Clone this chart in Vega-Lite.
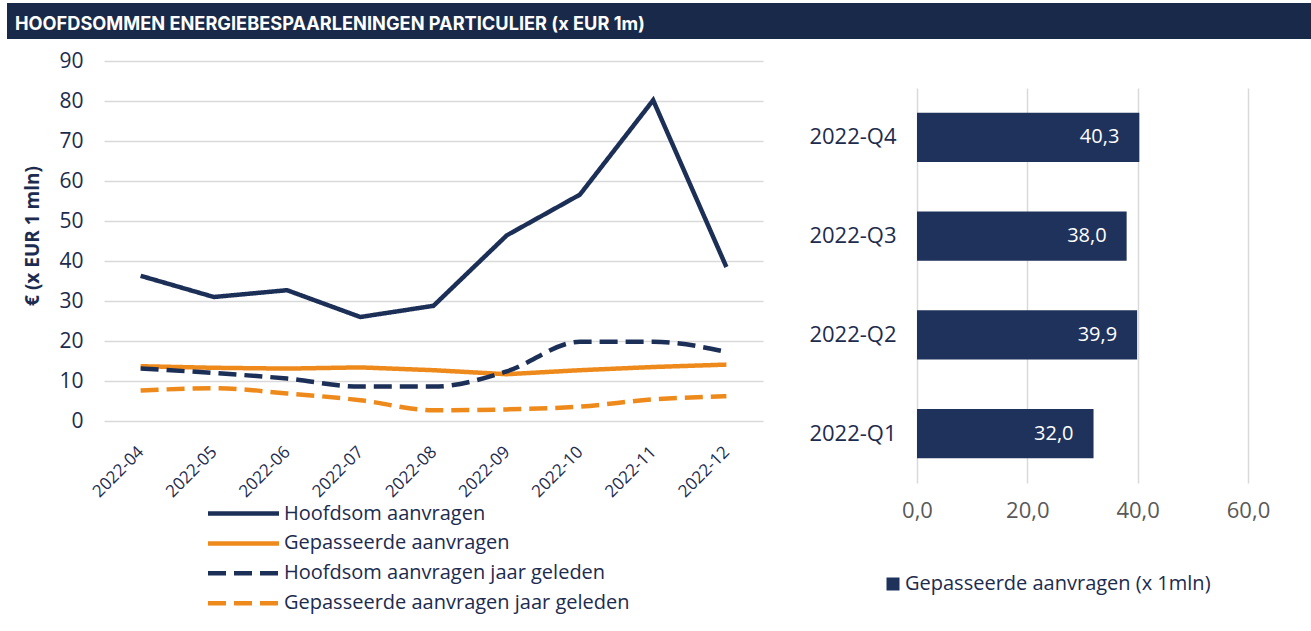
{
  "$schema": "https://vega.github.io/schema/vega-lite/v6.json",
  "padding": {"left": 7, "top": 3, "right": 0, "bottom": 0},
  "autosize": {"type": "pad"},
  "background": "white",
  "columns": 1,
  "spacing": 11,
  "config": {
    "view": {"stroke": null},
    "font": "Open Sans",
    "locale": {"number": {"decimal": ",", "thousands": ".", "grouping": [3], "currency": ["€", ""]}}
  },
  "concat": [
    {
      "width": 1304,
      "height": 36,
      "data": {"values": [{"kop": "HOOFDSOMMEN ENERGIEBESPAARLENINGEN PARTICULIER (x EUR 1m)"}]},
      "layer": [
        {"mark": {"type": "rect", "color": "#19294a"}, "encoding": {}},
        {
          "mark": {"type": "text", "align": "left", "baseline": "alphabetic", "dx": 8, "dy": 9, "color": "white", "font": "Inter", "fontSize": 18.2, "fontWeight": "bold"},
          "encoding": {
            "text": {"field": "kop", "type": "nominal"},
            "x": {"datum": 0, "type": "quantitative", "scale": {"domain": [0, 1]}, "axis": null}
          }
        }
      ]
    },
    {
      "columns": 2,
      "spacing": 0,
      "concat": [
        {
          "width": 51,
          "height": 360,
          "data": {"values": [{"titel": "€ (x EUR 1 mln)"}]},
          "mark": {"type": "text", "angle": 270, "align": "center", "baseline": "middle", "dx": 5, "color": "#1d2b4e", "font": "Open Sans", "fontSize": 19, "fontWeight": "bold"},
          "encoding": {"text": {"field": "titel", "type": "nominal"}}
        },
        {
          "columns": 2,
          "spacing": 45,
          "resolve": {
            "scale": {"color": "independent", "strokeDash": "independent"},
            "legend": {"color": "independent", "strokeDash": "independent"}
          },
          "concat": [
            {
              "width": 659,
              "height": 360,
              "encoding": {
                "x": {
                  "field": "maand", "type": "ordinal",
                  "scale": {"type": "point", "padding": 0.5},
                  "axis": {
                    "title": null, "domain": false, "ticks": false, "grid": false,
                    "labelAngle": -45, "labelAlign": "right", "labelBaseline": "middle",
                    "labelPadding": 28, "labelFont": "Open Sans", "labelFontSize": 17, "labelColor": "#1d2b4e"
                  }
                },
                "y": {
                  "field": "waarde", "type": "quantitative",
                  "scale": {"domain": [0, 90]},
                  "axis": {
                    "values": [0, 10, 20, 30, 40, 50, 60, 70, 80, 90],
                    "title": null,
                    "domain": false, "ticks": false, "grid": true, "gridColor": "#d9d9d9", "gridWidth": 1.5,
                    "labelFont": "Open Sans", "labelFontSize": 21, "labelColor": "#1d2b4e", "labelPadding": 21
                  }
                },
                "color": {
                  "field": "reeks", "type": "nominal",
                  "scale": {
                    "domain": ["Hoofdsom aanvragen", "Gepasseerde aanvragen", "Hoofdsom aanvragen jaar geleden", "Gepasseerde aanvragen jaar geleden"],
                    "range": ["#1c2f57", "#ee8a1c", "#1c2f57", "#ee8a1c"]
                  },
                  "legend": {
                    "title": null, "orient": "none", "legendX": 129.5, "legendY": 442.5,
                    "symbolType": "M-5.07,0H5.07", "symbolSize": 196, "symbolStrokeWidth": 4.5,
                    "labelFont": "Open Sans", "labelFontSize": 20, "labelColor": "#1d2b4e",
                    "labelOffset": 30.5, "rowPadding": 9.9, "padding": 0, "labelLimit": 600
                  }
                },
                "strokeDash": {
                  "field": "reeks", "type": "nominal",
                  "scale": {
                    "domain": ["Hoofdsom aanvragen", "Gepasseerde aanvragen", "Hoofdsom aanvragen jaar geleden", "Gepasseerde aanvragen jaar geleden"],
                    "range": [[1, 0], [1, 0], [18, 8], [18, 8]]
                  },
                  "legend": {
                    "title": null, "orient": "none", "legendX": 129.5, "legendY": 442.5,
                    "symbolType": "M-5.07,0H5.07", "symbolSize": 196, "symbolStrokeWidth": 4.5,
                    "labelFont": "Open Sans", "labelFontSize": 20, "labelColor": "#1d2b4e",
                    "labelOffset": 30.5, "rowPadding": 9.9, "padding": 0, "labelLimit": 600
                  }
                }
              },
              "layer": [
                {
                  "data": {"values": [
                    {"maand": "2022-04", "reeks": "Hoofdsom aanvragen", "waarde": 36.3},
                    {"maand": "2022-05", "reeks": "Hoofdsom aanvragen", "waarde": 31.0},
                    {"maand": "2022-06", "reeks": "Hoofdsom aanvragen", "waarde": 32.7},
                    {"maand": "2022-07", "reeks": "Hoofdsom aanvragen", "waarde": 26.0},
                    {"maand": "2022-08", "reeks": "Hoofdsom aanvragen", "waarde": 28.8},
                    {"maand": "2022-09", "reeks": "Hoofdsom aanvragen", "waarde": 46.4},
                    {"maand": "2022-10", "reeks": "Hoofdsom aanvragen", "waarde": 56.6},
                    {"maand": "2022-11", "reeks": "Hoofdsom aanvragen", "waarde": 80.2},
                    {"maand": "2022-12", "reeks": "Hoofdsom aanvragen", "waarde": 38.5},
                    {"maand": "2022-04", "reeks": "Gepasseerde aanvragen", "waarde": 13.7},
                    {"maand": "2022-05", "reeks": "Gepasseerde aanvragen", "waarde": 13.3},
                    {"maand": "2022-06", "reeks": "Gepasseerde aanvragen", "waarde": 13.1},
                    {"maand": "2022-07", "reeks": "Gepasseerde aanvragen", "waarde": 13.4},
                    {"maand": "2022-08", "reeks": "Gepasseerde aanvragen", "waarde": 12.7},
                    {"maand": "2022-09", "reeks": "Gepasseerde aanvragen", "waarde": 11.7},
                    {"maand": "2022-10", "reeks": "Gepasseerde aanvragen", "waarde": 12.7},
                    {"maand": "2022-11", "reeks": "Gepasseerde aanvragen", "waarde": 13.5},
                    {"maand": "2022-12", "reeks": "Gepasseerde aanvragen", "waarde": 14.1}
                  ]},
                  "mark": {"type": "line", "strokeWidth": 4.5, "interpolate": "linear"}
                },
                {
                  "data": {"values": [
                    {"maand": "2022-04", "reeks": "Hoofdsom aanvragen jaar geleden", "waarde": 13.1},
                    {"maand": "2022-05", "reeks": "Hoofdsom aanvragen jaar geleden", "waarde": 12.0},
                    {"maand": "2022-06", "reeks": "Hoofdsom aanvragen jaar geleden", "waarde": 10.6},
                    {"maand": "2022-07", "reeks": "Hoofdsom aanvragen jaar geleden", "waarde": 8.6},
                    {"maand": "2022-08", "reeks": "Hoofdsom aanvragen jaar geleden", "waarde": 8.6},
                    {"maand": "2022-09", "reeks": "Hoofdsom aanvragen jaar geleden", "waarde": 12.4},
                    {"maand": "2022-10", "reeks": "Hoofdsom aanvragen jaar geleden", "waarde": 19.8},
                    {"maand": "2022-11", "reeks": "Hoofdsom aanvragen jaar geleden", "waarde": 19.8},
                    {"maand": "2022-12", "reeks": "Hoofdsom aanvragen jaar geleden", "waarde": 17.3},
                    {"maand": "2022-04", "reeks": "Gepasseerde aanvragen jaar geleden", "waarde": 7.6},
                    {"maand": "2022-05", "reeks": "Gepasseerde aanvragen jaar geleden", "waarde": 8.2},
                    {"maand": "2022-06", "reeks": "Gepasseerde aanvragen jaar geleden", "waarde": 6.9},
                    {"maand": "2022-07", "reeks": "Gepasseerde aanvragen jaar geleden", "waarde": 5.2},
                    {"maand": "2022-08", "reeks": "Gepasseerde aanvragen jaar geleden", "waarde": 2.7},
                    {"maand": "2022-09", "reeks": "Gepasseerde aanvragen jaar geleden", "waarde": 2.9},
                    {"maand": "2022-10", "reeks": "Gepasseerde aanvragen jaar geleden", "waarde": 3.6},
                    {"maand": "2022-11", "reeks": "Gepasseerde aanvragen jaar geleden", "waarde": 5.4},
                    {"maand": "2022-12", "reeks": "Gepasseerde aanvragen jaar geleden", "waarde": 6.2}
                  ]},
                  "mark": {"type": "line", "strokeWidth": 4.5, "interpolate": "monotone"}
                }
              ]
            },
            {
              "columns": 1,
              "spacing": 0,
              "concat": [
                {
                  "width": 331,
                  "height": 27,
                  "data": {"values": []},
                  "mark": {"type": "text"},
                  "encoding": {}
                },
                {
                  "width": 331,
                  "height": 395,
                  "data": {"values": [
                    {"kwartaal": "2022-Q1", "serie": "Gepasseerde aanvragen (x 1mln)", "waarde": 32.0},
                    {"kwartaal": "2022-Q2", "serie": "Gepasseerde aanvragen (x 1mln)", "waarde": 39.9},
                    {"kwartaal": "2022-Q3", "serie": "Gepasseerde aanvragen (x 1mln)", "waarde": 38.0},
                    {"kwartaal": "2022-Q4", "serie": "Gepasseerde aanvragen (x 1mln)", "waarde": 40.3}
                  ]},
                  "encoding": {
                    "y": {
                      "field": "kwartaal", "type": "nominal", "sort": "descending",
                      "scale": {"paddingInner": 0.5, "paddingOuter": 0.25},
                      "axis": {
                        "title": null, "domain": false, "ticks": false,
                        "labelFont": "Open Sans", "labelFontSize": 22, "labelColor": "#1d2b4e", "labelPadding": 21
                      }
                    },
                    "x": {
                      "field": "waarde", "type": "quantitative",
                      "scale": {"domain": [0, 60]},
                      "axis": {
                        "title": null, "values": [0, 20, 40, 60], "format": ".1f", "labelFlush": false,
                        "domain": false, "ticks": false, "grid": true, "gridColor": "#d9d9d9", "gridWidth": 1.5,
                        "labelFont": "Open Sans", "labelFontSize": 22, "labelColor": "#595959", "labelPadding": 17
                      }
                    }
                  },
                  "layer": [
                    {
                      "mark": {"type": "bar"},
                      "encoding": {
                        "color": {
                          "field": "serie", "type": "nominal",
                          "scale": {"range": ["#1f325c"]},
                          "legend": {
                            "title": null, "orient": "none", "legendX": -34, "legendY": 513,
                            "symbolType": "square", "symbolSize": 169, "symbolStrokeWidth": 0,
                            "labelFont": "Open Sans", "labelFontSize": 20, "labelColor": "#1d2b4e",
                            "labelOffset": 2, "padding": 0, "labelLimit": 600
                          }
                        }
                      }
                    },
                    {
                      "mark": {"type": "text", "align": "right", "baseline": "middle", "dx": -20, "color": "white", "font": "Open Sans", "fontSize": 20},
                      "encoding": {"text": {"field": "waarde", "type": "quantitative", "format": ".1f"}}
                    }
                  ]
                }
              ]
            }
          ]
        }
      ]
    }
  ]
}
